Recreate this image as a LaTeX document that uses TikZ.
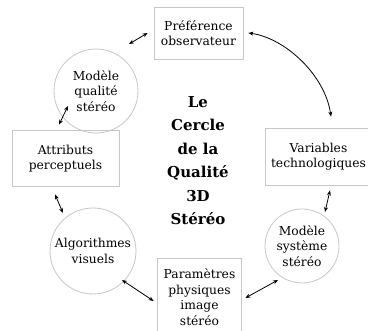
\documentclass[tikz,border=0pt]{standalone}
\usepackage{fontspec}
\setmainfont{DejaVu Serif}
\usetikzlibrary{arrows.meta}
\begin{document}
\begin{tikzpicture}[x=1pt,y=-1pt,
  every node/.style={font=\fontsize{12.3}{15.5}\selectfont, align=center, inner sep=1pt},
  box/.style={draw=black!22, line width=0.8pt, rectangle},
  circ/.style={draw=black!22, line width=0.8pt, circle},
  conn/.style={{Stealth[length=5pt,width=4pt]}-{Stealth[length=5pt,width=4pt]}, line width=0.8pt}
]
\fill[white] (0,0) rectangle (368,331);
\useasboundingbox (0,0) rectangle (368,331);
\node[box, minimum width=89pt, minimum height=52pt] (pref) at (198.5,33) {Préférence\\observateur};
\node[circ, minimum size=84pt] (qual) at (96,91) {Modèle\\qualité\\stéréo};
\node[box, minimum width=107pt, minimum height=56pt] (attr) at (65.5,158.5) {Attributs\\perceptuels};
\node[circ, minimum size=86pt] (algo) at (93,251) {Algorithmes\\visuels};
\node[box, minimum width=84pt, minimum height=78pt] (param) at (199.5,297) {Paramètres\\physiques\\image\\stéréo};
\node[circ, minimum size=74pt] (sys) at (302,246) {Modèle\\système\\stéréo};
\node[box, minimum width=107pt, minimum height=57pt] (var) at (318.5,156.5) {Variables\\technologiques};
\node[anchor=north, inner sep=0pt, font=\fontsize{15}{23.5}\selectfont\bfseries] (title) at (198,96) {Le\\Cercle\\de la\\Qualité\\3D\\Stéréo};
\draw[conn] ([shift={(33,-47)}]qual.center) -- ([shift={(-6,0)}]pref.west);
\draw[conn] ([shift={(-28,15)}]qual.center) -- ([shift={(-6.5,-5.5)}]attr.north);
\draw[conn] ([shift={(-10.5,7.5)}]attr.south) -- ([shift={(-30,-38)}]algo.center);
\draw[conn] ([shift={(29,29)}]algo.center) -- ([shift={(-3.5,4)}]param.west);
\draw[conn] ([shift={(3.5,1)}]param.east) -- ([shift={(-24,34)}]sys.center);
\draw[conn] ([shift={(23,-34)}]sys.center) -- ([shift={(11.5,5)}]var.south);
\draw[conn] ([shift={(5,0)}]pref.east) .. controls (285,38) and (325,75) .. ([shift={(12.5,-11)}]var.north);
\end{tikzpicture}
\end{document}
